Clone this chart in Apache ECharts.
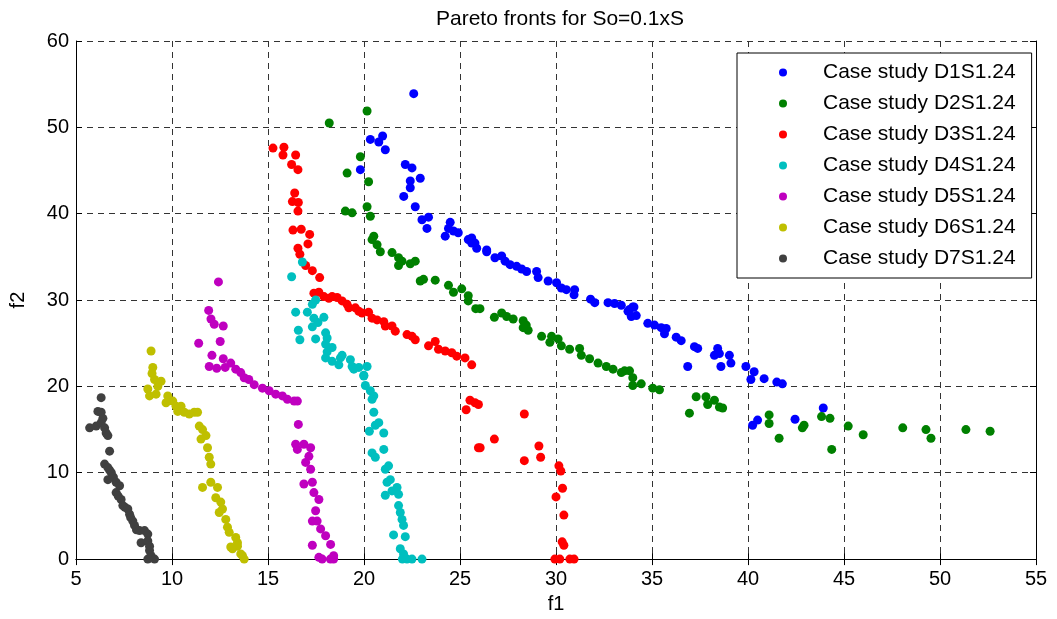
<!DOCTYPE html>
<html>
<head>
<meta charset="utf-8">
<script src="https://cdn.jsdelivr.net/npm/echarts@6/dist/echarts.min.js"></script>
<style>html,body{margin:0;padding:0;background:#fff}#c{width:1057px;height:619px}</style>
</head>
<body>
<div id="c"></div>
<script>
var seriesNames = ['Case study D1S1.24','Case study D2S1.24','Case study D3S1.24','Case study D4S1.24','Case study D5S1.24','Case study D6S1.24','Case study D7S1.24'];
var xTicks = [5,10,15,20,25,30,35,40,45,50,55];
var yTicks = [0,10,20,30,40,50,60];

var d1 = [[22.59,53.9],[20.33,48.6],[20.77,48.3],[20.97,49.0],[21.11,47.4],[19.81,45.1],[22.15,45.7],[22.5,45.3],[22.41,43.8],[22.93,44.1],[22.41,43.0],[22.07,42.0],[22.67,40.8],[23.02,39.3],[23.36,39.6],[23.28,38.3],[24.49,39.0],[24.4,38.3],[24.23,37.4],[24.66,38.0],[24.91,37.8],[25.43,37.0],[25.61,37.2],[25.78,36.6],[25.87,36.0],[25.61,36.6],[26.39,35.6],[26.39,35.8],[26.82,34.9],[27.17,35.1],[27.35,34.5],[27.61,34.1],[27.95,33.9],[28.21,33.6],[28.47,33.3],[28.99,33.3],[29.07,32.6],[29.59,32.2],[30.03,32.0],[30.28,31.4],[30.54,31.2],[30.97,31.2],[30.94,30.6],[31.80,30.1],[32.02,29.7],[32.71,29.7],[33.05,29.6],[33.40,29.4],[33.83,28.9],[34.06,29.2],[34.0,29.2],[33.75,28.7],[34.18,28.2],[33.92,28.1],[34.78,27.3],[35.13,27.1],[35.48,26.8],[35.74,26.7],[35.65,26.1],[36.26,25.7],[36.52,25.3],[37.21,24.6],[37.38,24.4],[38.42,24.4],[38.25,23.6],[38.51,23.8],[39.03,23.6],[39.11,22.7],[36.86,22.3],[38.59,22.3],[39.89,22.3],[40.32,21.7],[40.15,20.8],[40.84,20.9],[41.50,20.5],[41.79,20.3],[40.24,15.5],[40.5,16.1],[42.45,16.2],[43.92,17.5]];

var d2 = [[20.16,51.9],[18.19,50.5],[19.81,46.6],[19.12,44.7],[20.24,43.7],[20.16,40.8],[19.03,40.3],[19.38,40.1],[20.33,39.7],[20.51,37.4],[20.42,37.0],[20.68,36.4],[20.85,35.6],[21.46,35.5],[21.8,34.9],[21.98,34.5],[21.8,34.0],[22.41,34.2],[22.67,34.5],[22.93,32.2],[23.10,32.4],[23.71,32.3],[24.40,31.7],[24.66,30.9],[25.09,31.3],[25.43,30.5],[25.43,29.9],[25.82,29.0],[26.04,29.0],[26.79,28.0],[27.17,28.5],[27.43,28.1],[27.77,27.8],[28.29,27.6],[28.29,26.8],[28.55,26.5],[28.45,27.1],[29.25,25.8],[29.77,25.8],[29.68,25.1],[30.11,25.5],[30.28,24.7],[30.71,24.3],[31.23,24.4],[31.32,23.6],[31.75,23.2],[32.19,22.7],[32.62,22.3],[32.97,22.0],[33.40,21.6],[33.57,21.8],[33.83,21.8],[34.0,21.0],[34.0,20.1],[34.44,20.3],[35.04,19.8],[35.39,19.6],[37.3,18.8],[37.81,18.8],[38.25,18.4],[37.9,17.9],[38.51,17.6],[38.68,17.5],[36.95,16.9],[41.10,16.7],[41.10,15.7],[41.62,14.0],[42.92,15.5],[42.83,15.2],[43.83,16.5],[44.27,16.3],[44.36,12.7],[45.22,15.4],[46.0,14.4],[48.06,15.2],[49.27,15.0],[49.53,14.0],[51.35,15.0],[52.61,14.8]];

var d3 = [[15.26,47.6],[15.83,47.7],[15.78,46.8],[16.44,46.8],[16.23,45.7],[16.56,45.1],[16.39,42.4],[16.27,41.4],[16.58,41.3],[16.56,40.3],[16.30,38.1],[16.73,38.2],[17.17,37.6],[17.08,36.5],[16.56,36.0],[16.66,35.3],[16.96,34.0],[17.31,33.4],[17.69,32.6],[17.39,30.8],[17.65,30.9],[17.91,30.4],[18.17,30.2],[18.34,30.4],[18.6,30.3],[18.86,29.9],[19.12,29.5],[19.21,29.1],[19.55,29.1],[19.73,28.7],[19.9,28.5],[20.24,28.6],[20.42,27.9],[20.68,27.7],[21.03,27.5],[21.11,27.0],[21.46,27.0],[21.63,26.4],[22.24,26.0],[22.5,25.8],[22.67,25.4],[23.36,24.7],[23.71,25.2],[23.88,24.3],[24.23,24.1],[24.57,23.9],[24.83,23.5],[25.26,23.3],[25.61,22.5],[25.52,18.4],[25.78,18.1],[25.96,17.9],[25.32,17.3],[28.35,16.8],[26.79,13.9],[25.96,12.9],[26.05,12.9],[29.11,13.1],[29.2,11.8],[28.35,11.4],[30.15,10.8],[30.25,10.2],[30.34,8.2],[30.0,7.2],[30.41,5.1],[30.32,2.0],[30.41,1.6],[29.94,0],[30.2,0],[30.72,0],[30.94,0]];

var d4 = [[16.79,34.4],[16.23,32.7],[17.48,30.0],[17.31,29.5],[16.44,28.6],[17.05,28.6],[17.39,27.9],[17.91,28.0],[17.31,26.9],[17.6,27.4],[16.58,26.5],[16.66,25.4],[17.48,25.5],[18.0,26.2],[18.08,25.6],[18.0,24.9],[18.08,24.0],[18.34,24.5],[18.0,23.3],[18.34,22.9],[18.77,23.3],[18.69,22.5],[18.86,23.6],[19.29,23.1],[19.38,22.3],[19.47,22.0],[19.73,22.2],[20.16,22.3],[19.99,21.3],[19.99,21.2],[20.07,20.1],[20.33,19.5],[20.51,18.9],[20.42,18.5],[20.51,17.0],[20.77,15.8],[20.59,15.5],[20.28,14.8],[21.03,14.6],[20.42,12.3],[20.59,11.8],[21.03,12.7],[21.28,10.8],[21.11,10.4],[21.37,9.2],[21.2,8.9],[21.72,8.3],[21.46,7.9],[21.11,7.4],[21.8,7.5],[21.8,6.2],[21.89,5.4],[21.98,4.6],[22.06,3.9],[21.54,2.8],[22.15,2.6],[21.89,1.2],[22.06,0.6],[22.0,0],[22.24,0],[22.5,0],[23.02,0]];

var d5 = [[12.42,32.1],[11.91,28.8],[12.03,27.8],[12.2,27.2],[12.67,27.0],[11.39,25.0],[12.51,25.2],[12.08,23.6],[12.67,23.2],[11.94,22.3],[12.33,22.1],[12.77,22.2],[13.06,22.7],[13.32,22.0],[13.58,21.6],[13.76,21.0],[14.0,20.8],[14.28,20.2],[14.71,19.8],[15.06,19.5],[15.40,19.1],[15.75,18.9],[16.01,18.5],[16.36,18.3],[16.53,18.3],[16.58,15.6],[16.44,13.3],[16.87,13.3],[16.53,12.7],[17.22,12.9],[17.13,11.9],[16.96,11.2],[17.22,10.4],[16.87,8.7],[17.31,8.9],[17.39,7.7],[17.65,6.9],[17.48,5.6],[17.31,4.4],[17.56,4.4],[17.74,3.5],[18.0,2.7],[18.26,1.7],[17.31,1.6],[17.65,0.2],[17.82,0],[18.25,0],[18.42,0.4],[18.42,0]];

var d6 = [[8.91,24.1],[9.0,22.2],[8.96,21.5],[9.09,20.8],[9.43,20.6],[9.26,20.0],[8.74,19.7],[8.83,18.9],[9.17,19.1],[9.78,18.9],[9.69,18.1],[10.04,18.3],[10.21,17.7],[10.47,17.7],[10.30,17.1],[10.64,17.0],[10.90,16.8],[11.16,17.0],[11.33,17.0],[11.42,15.4],[11.59,15.0],[11.51,13.9],[11.77,14.3],[11.85,12.9],[11.94,11.8],[12.02,11.0],[12.02,8.9],[11.59,8.3],[12.37,8.3],[12.28,7.1],[12.54,6.6],[12.63,5.8],[12.46,5.4],[12.80,4.6],[12.89,3.7],[12.98,3.1],[13.32,2.5],[13.41,1.9],[13.06,1.4],[13.41,1.5],[13.15,1.2],[13.58,0.6],[13.67,0.4],[13.76,0]];

var d7 = [[6.31,18.7],[6.14,17.1],[6.31,17.0],[5.71,15.2],[6.05,15.4],[6.31,15.8],[6.40,16.3],[6.49,15.2],[6.57,14.6],[6.66,14.3],[6.75,12.5],[6.49,11.0],[6.66,10.6],[6.84,10.0],[6.75,10.3],[6.66,9.2],[6.95,9.5],[7.09,8.9],[7.27,8.5],[7.09,7.7],[7.20,7.3],[7.35,6.9],[7.44,6.2],[7.55,6.0],[7.70,5.8],[7.79,5.2],[7.85,4.8],[7.96,4.4],[8.05,3.9],[8.15,3.4],[8.31,3.3],[8.57,3.3],[8.74,2.9],[8.39,1.9],[8.74,2.1],[8.83,1.5],[8.83,1.0],[8.91,0.4],[9.09,0],[8.74,0]];

var dataSets = [d1,d2,d3,d4,d5,d6,d7];
var colors = ['#0000ff','#008000','#ff0000','#00bfbf','#bf00bf','#bfbf00','#404040'];
var FONT = 'Liberation Sans, Arial, sans-serif';

var chart = echarts.init(document.getElementById('c'), null, {renderer:'canvas'});
var series = dataSets.map(function(d,i){
  return {name:seriesNames[i], type:'scatter', data:d, symbolSize:9,
    itemStyle:{color:colors[i], opacity:1}, emphasis:{disabled:true}};
});
var tickLabel = {color:'#000', fontSize:20, fontFamily:FONT};
chart.setOption({
  animation:false,
  backgroundColor:'#fff',
  title:{text:'Pareto fronts for So=0.1xS', left:555, textAlign:'center', top:4,
    textStyle:{color:'#000', fontSize:21, fontWeight:'normal', fontFamily:FONT}},
  grid:{left:73, right:21, top:41, bottom:59},
  legend:{orient:'vertical', left:737, top:53, itemGap:10, itemWidth:8, itemHeight:8,
    icon:'circle', borderColor:'#000', borderWidth:1, backgroundColor:'#fff',
    padding:[9,16,9,42], data:seriesNames,
    textStyle:{color:'#000', fontSize:21, fontFamily:FONT, padding:[0,0,0,31]}},
  xAxis:[{type:'value', min:5, max:55, interval:5, position:'bottom',
      name:'f1', nameLocation:'middle', nameGap:33,
      nameTextStyle:{color:'#000', fontSize:20, fontFamily:FONT},
      axisLine:{lineStyle:{color:'#000', width:1}},
      axisTick:{inside:true, length:6, lineStyle:{color:'#000'}},
      axisLabel:Object.assign({margin:10, formatter:function(v){return xTicks.indexOf(v)>=0?String(v):'';}}, tickLabel),
      splitLine:{show:true, lineStyle:{color:'#333', type:[6,5], width:1}}},
    {type:'value', min:5, max:55, interval:5, position:'top',
      axisLine:{show:true, lineStyle:{color:'#000'}},
      axisTick:{inside:true, length:6, lineStyle:{color:'#000'}},
      axisLabel:{show:false}, splitLine:{show:false}}],
  yAxis:[{type:'value', min:0, max:60, interval:10, position:'left',
      name:'f2', nameLocation:'middle', nameGap:48,
      nameTextStyle:{color:'#000', fontSize:20, fontFamily:FONT},
      axisLine:{show:true, lineStyle:{color:'#000', width:1}},
      axisTick:{show:true, inside:true, length:6, lineStyle:{color:'#000'}},
      axisLabel:Object.assign({margin:7, formatter:function(v){return yTicks.indexOf(v)>=0?String(v):'';}}, tickLabel),
      splitLine:{show:true, lineStyle:{color:'#333', type:[6,5], width:1}}},
    {type:'value', min:0, max:60, interval:10, position:'right',
      axisLine:{show:true, lineStyle:{color:'#000'}},
      axisTick:{show:true, inside:true, length:6, lineStyle:{color:'#000'}},
      axisLabel:{show:false}, splitLine:{show:false}}],
  series:series
});
</script>
</body>
</html>
